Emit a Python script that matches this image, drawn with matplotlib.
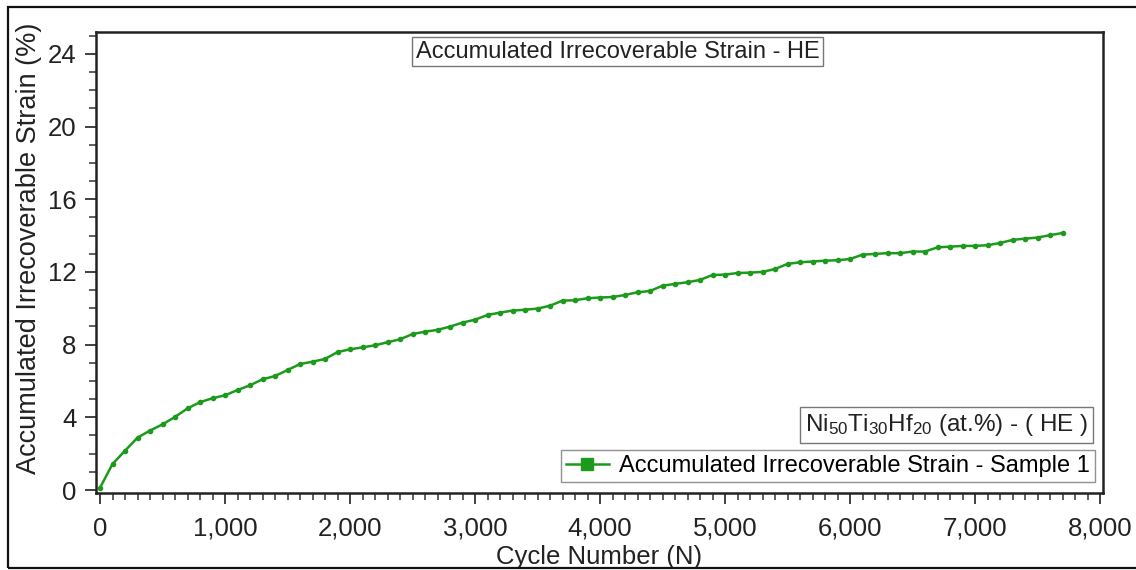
import matplotlib
matplotlib.use('Agg')
import matplotlib.pyplot as plt
import matplotlib.ticker as mticker
from matplotlib.patches import Rectangle

plt.rcParams['font.family'] = ['Liberation Sans', 'DejaVu Sans']
plt.rcParams['mathtext.fontset'] = 'custom'
plt.rcParams['mathtext.rm'] = 'Liberation Sans'
plt.rcParams['mathtext.it'] = 'Liberation Sans:italic'

# data
cycles = [0, 100, 200, 300, 400, 500, 600, 700, 800, 900,
          1000, 1100, 1200, 1300, 1400, 1500, 1600, 1700, 1800, 1900,
          2000, 2100, 2200, 2300, 2400, 2500, 2600, 2700, 2800, 2900,
          3000, 3100, 3200, 3300, 3400, 3500, 3600, 3700, 3800, 3900,
          4000, 4100, 4200, 4300, 4400, 4500, 4600, 4700, 4800, 4900,
          5000, 5100, 5200, 5300, 5400, 5500, 5600, 5700, 5800, 5900,
          6000, 6100, 6200, 6300, 6400, 6500, 6600, 6700, 6800, 6900,
          7000, 7100, 7200, 7300, 7400, 7500, 7600, 7700]
strain = [0.12, 1.43, 2.16, 2.88, 3.27, 3.61, 4.02, 4.49, 4.83, 5.05,
          5.21, 5.50, 5.76, 6.09, 6.27, 6.60, 6.93, 7.06, 7.21, 7.59,
          7.74, 7.85, 7.96, 8.13, 8.29, 8.58, 8.71, 8.81, 8.99, 9.21,
          9.37, 9.63, 9.76, 9.87, 9.92, 9.98, 10.14, 10.42, 10.44, 10.55,
          10.59, 10.62, 10.73, 10.88, 10.95, 11.24, 11.34, 11.43, 11.56, 11.83,
          11.85, 11.94, 11.96, 12.00, 12.16, 12.44, 12.53, 12.57, 12.62, 12.64,
          12.71, 12.95, 12.99, 13.03, 13.03, 13.12, 13.12, 13.35, 13.39, 13.43,
          13.43, 13.47, 13.59, 13.76, 13.83, 13.89, 14.02, 14.14]
series_label = 'Accumulated Irrecoverable Strain - Sample 1'
title_text = 'Accumulated Irrecoverable Strain - HE'
alloy_text = r'Ni$_{\mathrm{50}}$Ti$_{\mathrm{30}}$Hf$_{\mathrm{20}}$ (at.%) - ( HE )'
y_ticks = [0, 4, 8, 12, 16, 20, 24]
x_ticks = [0, 1000, 2000, 3000, 4000, 5000, 6000, 7000, 8000]

green = '#1c9a1c'
fs = 18.5

fig = plt.figure(figsize=(11.36, 5.70), dpi=100)
ax = fig.add_axes([96/1136, 1 - 493/570, 1007/1136, 461/570])

ax.plot(cycles, strain, color=green, lw=1.8, marker='o', ms=3.0,
        mec=green, mfc=green, label=series_label)

ax.set_xlim(-32, 8024)
ax.set_ylim(-0.165, 25.2)
ax.set_xticks(x_ticks)
ax.set_yticks(y_ticks)
ax.xaxis.set_minor_locator(mticker.MultipleLocator(100))
ax.yaxis.set_minor_locator(mticker.MultipleLocator(1))
ax.xaxis.set_major_formatter(mticker.FuncFormatter(lambda v, p: '{:,}'.format(int(v))))

ax.tick_params(axis='both', which='major', direction='out', length=8, width=1.3,
               labelsize=fs, color='#333333', labelcolor='#222222')
ax.tick_params(axis='both', which='minor', direction='out', length=5, width=1.1,
               color='#333333')
ax.tick_params(axis='x', which='major', pad=9)
ax.tick_params(axis='y', which='major', pad=6)
for s in ax.spines.values():
    s.set_linewidth(1.8)
    s.set_color('#222222')

ax.set_xlabel('Cycle Number (N)', fontsize=18.5, color='#222222')
ax.set_ylabel('Accumulated Irrecoverable Strain (%)', fontsize=19.5, color='#222222')
ax.xaxis.set_label_coords((599 - 96) / 1007, -(545 - 493) / 461)
ax.yaxis.set_label_coords(-(54) / 1007, (493 - 248) / 461)

ax.text(0.518, 0.957, title_text, transform=ax.transAxes, ha='center', va='center',
        fontsize=17, color='#222222',
        bbox=dict(boxstyle='square,pad=0.15', fc='white', ec='#777777', lw=1.0))
ax.text(0.985, 0.119, alloy_text, transform=ax.transAxes, ha='right', va='bottom',
        fontsize=17.5, color='#222222',
        bbox=dict(boxstyle='square,pad=0.2', fc='white', ec='#777777', lw=1.0))

leg = ax.legend(loc='lower right', bbox_to_anchor=(0.992, 0.024), borderaxespad=0,
                fontsize=17, frameon=True, fancybox=False, edgecolor='#777777',
                handlelength=1.8, handletextpad=0.45, borderpad=0.2,
                markerscale=3.0)
leg.get_frame().set_linewidth(1.0)
leg.legend_handles[0].set_marker('s')

# outer frame around the figure
fig.patches.append(Rectangle((8/1136, 1 - 568/570), 1.1, (568 - 7)/570,
                             transform=fig.transFigure, fill=False,
                             ec='#111111', lw=1.6, clip_on=False))

fig.savefig('out.png', dpi=100)
